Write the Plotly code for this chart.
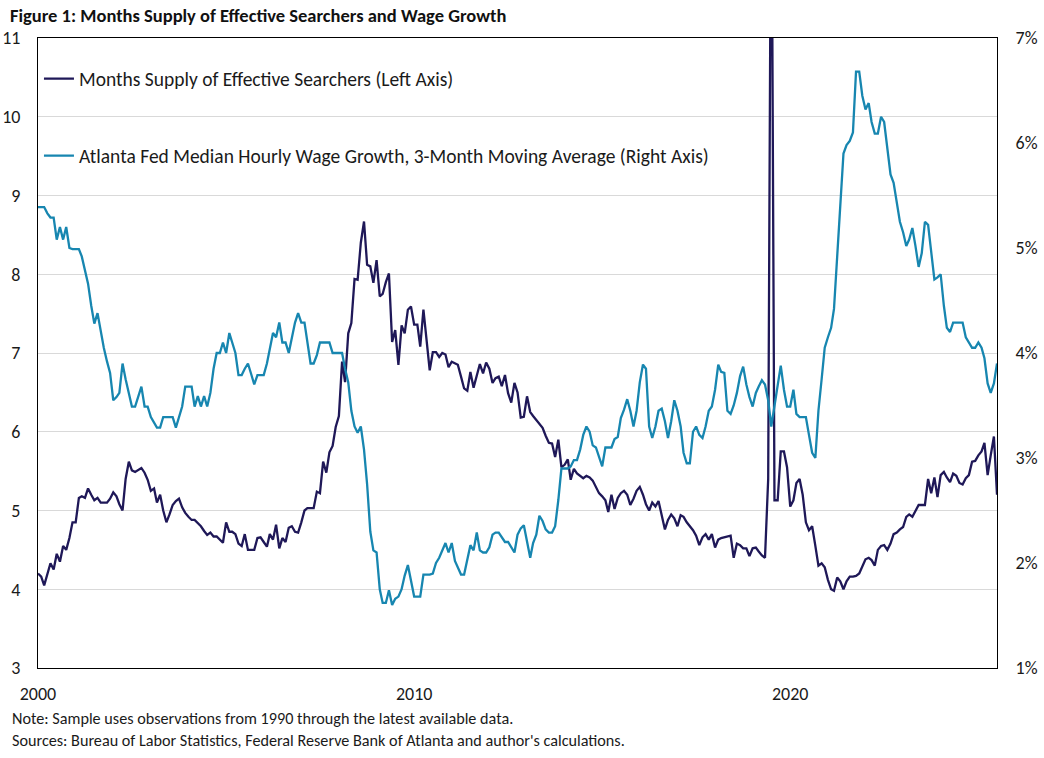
import pandas as pd
import plotly.graph_objects as go

# Months supply of effective searchers (left axis), monthly from Jan 2000
searchers = [
    4.2, 4.16, 4.05, 4.2, 4.33, 4.25, 4.45, 4.35, 4.55, 4.5, 4.65, 4.85,
    4.85, 5.16, 5.18, 5.16, 5.28, 5.2, 5.13, 5.16, 5.1, 5.1, 5.1, 5.15,
    5.23, 5.18, 5.08, 5.0, 5.4, 5.62, 5.51, 5.49, 5.52, 5.54, 5.48, 5.39,
    5.25, 5.28, 5.1, 5.2, 5.0, 4.85, 4.95, 5.07, 5.12, 5.15, 5.04, 4.97,
    4.92, 4.88, 4.88, 4.84, 4.8, 4.74, 4.69, 4.72, 4.67, 4.67, 4.63, 4.59,
    4.85, 4.73, 4.73, 4.7, 4.58, 4.55, 4.7, 4.5, 4.5, 4.5, 4.65, 4.66,
    4.6, 4.54, 4.7, 4.63, 4.82, 4.52, 4.65, 4.6, 4.78, 4.8, 4.73, 4.72,
    4.85, 5.0, 5.03, 5.03, 5.03, 5.24, 5.22, 5.62, 5.48, 5.74, 5.82, 6.06,
    6.2, 6.89, 6.63, 7.25, 7.38, 7.94, 7.93, 8.4, 8.67, 8.12, 8.1, 7.89,
    8.18, 7.72, 7.75, 7.9, 8.01, 7.14, 7.29, 6.85, 7.35, 7.25, 7.55, 7.59,
    7.36, 7.36, 7.08, 7.55, 7.12, 6.78, 7.01, 7.01, 6.95, 7.0, 6.98, 6.82,
    6.89, 6.87, 6.85, 6.7, 6.55, 6.52, 6.76, 6.56, 6.7, 6.86, 6.74, 6.88,
    6.8, 6.62, 6.68, 6.7, 6.58, 6.72, 6.49, 6.37, 6.62, 6.5, 6.18, 6.19,
    6.45, 6.25, 6.2, 6.15, 6.1, 6.05, 5.95, 5.86, 5.85, 5.68, 5.9, 5.55,
    5.58, 5.65, 5.39, 5.53, 5.47, 5.44, 5.41, 5.44, 5.42, 5.38, 5.3, 5.22,
    5.18, 5.13, 4.98, 5.2, 5.02, 5.16, 5.22, 5.25, 5.2, 5.07, 5.15, 5.25,
    5.3, 5.2, 5.08, 5.0, 5.1, 5.05, 5.12, 4.94, 4.76, 4.88, 4.95, 4.9,
    4.8, 4.94, 4.92, 4.85, 4.8, 4.75, 4.68, 4.56, 4.66, 4.7, 4.63, 4.7,
    4.53, 4.63, 4.65, 4.66, 4.67, 4.68, 4.4, 4.58, 4.56, 4.52, 4.52, 4.42,
    4.52, 4.53, 4.48, 4.43, 4.4, 5.4, 14.0, 5.13, 5.13, 5.75, 5.75, 5.55,
    5.05, 5.13, 5.35, 5.4, 5.2, 4.85, 4.75, 4.8, 4.55, 4.3, 4.33, 4.28,
    4.12, 4.0, 3.98, 4.15, 4.1, 4.0, 4.1, 4.16, 4.16, 4.17, 4.2, 4.28,
    4.38, 4.4, 4.37, 4.3, 4.5, 4.55, 4.56, 4.5, 4.58, 4.7, 4.72, 4.76,
    4.79, 4.92, 4.95, 4.92, 5.0, 5.07, 5.07, 5.07, 5.4, 5.22, 5.42, 5.17,
    5.45, 5.49, 5.42, 5.36, 5.47, 5.44, 5.35, 5.33, 5.41, 5.45, 5.62, 5.63,
    5.7, 5.75, 5.86, 5.45, 5.7, 5.94, 5.2,
]

# Atlanta Fed median hourly wage growth, 3-month moving average (%, right axis)
wage_growth = [
    5.39, 5.39, 5.39, 5.33, 5.29, 5.29, 5.08, 5.2, 5.08, 5.2, 5.0, 4.99,
    4.99, 4.99, 4.92, 4.8, 4.66, 4.45, 4.28, 4.38, 4.19, 4.05, 3.92, 3.81,
    3.55, 3.58, 3.62, 3.9, 3.75, 3.6, 3.49, 3.49, 3.6, 3.68, 3.49, 3.49,
    3.39, 3.33, 3.29, 3.29, 3.39, 3.39, 3.39, 3.39, 3.29, 3.4, 3.49, 3.68,
    3.68, 3.68, 3.49, 3.59, 3.49, 3.59, 3.49, 3.62, 3.85, 4.0, 4.0, 4.1,
    4.0, 4.19, 4.1, 4.0, 3.79, 3.79, 3.85, 3.9, 3.8, 3.7, 3.79, 3.79,
    3.79, 3.9, 4.05, 4.19, 4.15, 4.29, 4.1, 4.1, 4.0, 4.15, 4.29, 4.38,
    4.29, 4.29, 4.1, 3.9, 3.9, 3.98, 4.1, 4.1, 4.1, 4.1, 4.0, 4.0,
    4.0, 4.0, 3.85, 3.72, 3.45, 3.3, 3.24, 3.3, 3.08, 2.75, 2.3, 2.12,
    2.1, 1.75, 1.62, 1.62, 1.74, 1.6, 1.66, 1.68, 1.75, 1.88, 1.98, 1.82,
    1.68, 1.68, 1.68, 1.89, 1.89, 1.89, 1.9, 2.0, 2.05, 2.12, 2.19, 2.1,
    2.19, 2.02, 1.95, 1.89, 1.89, 2.05, 2.17, 2.12, 2.29, 2.12, 2.1, 2.1,
    2.15, 2.27, 2.29, 2.29, 2.25, 2.2, 2.2, 2.15, 2.1, 2.27, 2.33, 2.36,
    2.2, 2.05, 2.19, 2.27, 2.45, 2.4, 2.32, 2.29, 2.29, 2.35, 2.6, 2.9,
    2.9, 2.9, 2.92, 2.98, 2.98, 3.08, 3.22, 3.3, 3.25, 3.12, 3.1, 3.02,
    2.92, 3.1, 3.1, 3.1, 3.18, 3.2, 3.38, 3.46, 3.56, 3.45, 3.3, 3.45,
    3.72, 3.89, 3.85, 3.3, 3.19, 3.3, 3.45, 3.47, 3.35, 3.19, 3.35, 3.55,
    3.45, 3.3, 3.05, 2.95, 2.95, 3.25, 3.3, 3.22, 3.19, 3.3, 3.45, 3.49,
    3.65, 3.89, 3.82, 3.81, 3.45, 3.42, 3.5, 3.62, 3.78, 3.87, 3.7, 3.58,
    3.49, 3.62, 3.68, 3.74, 3.7, 3.55, 3.3, 3.5, 3.7, 3.88, 3.65, 3.49,
    3.49, 3.65, 3.42, 3.39, 3.39, 3.39, 3.22, 3.05, 3.0, 3.45, 3.75, 4.05,
    4.15, 4.24, 4.42, 4.9, 5.45, 5.9, 5.98, 6.02, 6.1, 6.68, 6.68, 6.45,
    6.32, 6.38, 6.2, 6.09, 6.09, 6.25, 6.2, 5.92, 5.7, 5.62, 5.45, 5.25,
    5.15, 5.02, 5.08, 5.19, 5.02, 4.82, 4.95, 5.25, 5.22, 4.95, 4.7, 4.72,
    4.75, 4.45, 4.24, 4.2, 4.29, 4.29, 4.29, 4.29, 4.15, 4.1, 4.05, 4.05,
    4.1, 4.05, 3.95, 3.71, 3.62, 3.71, 3.9,
]

x_tick_labels = ["2000", "2010", "2020"]
left_ticks = [3, 4, 5, 6, 7, 8, 9, 10, 11]
right_ticks = [1, 2, 3, 4, 5, 6, 7]
right_tick_labels = [f"{v}%" for v in right_ticks]

start = "2000-01-01"
dates_s = pd.date_range(start, periods=len(searchers), freq="MS")
dates_w = pd.date_range(start, periods=len(wage_growth), freq="MS")

FONT = "Carlito, Calibri, Lato, sans-serif"
NAVY = "#1f1858"
TEAL = "#1786b0"
TXT = "#1a1a1a"

fig = go.Figure()
fig.add_trace(go.Scatter(
    x=dates_s, y=searchers, mode="lines",
    name="Months Supply of Effective Searchers (Left Axis)",
    line=dict(color=NAVY, width=2.3), legend="legend",
))
fig.add_trace(go.Scatter(
    x=dates_w, y=wage_growth, mode="lines", yaxis="y2",
    name="Atlanta Fed Median Hourly Wage Growth, 3-Month Moving Average (Right Axis)",
    line=dict(color=TEAL, width=2.3), legend="legend2",
))

tickvals_x = [pd.Timestamp(f"{t}-01-01") for t in x_tick_labels]

fig.update_layout(
    width=1044, height=758,
    margin=dict(l=38, r=47, t=38, b=90),
    paper_bgcolor="white", plot_bgcolor="white",
    font=dict(family=FONT, size=18, color=TXT),
    title=dict(
        text="<b>Figure 1: Months Supply of Effective Searchers and Wage Growth</b>",
        x=10 / 1044, xanchor="left", xref="container",
        y=1 - 16 / 758, yanchor="middle", yref="container",
        font=dict(family=FONT, size=18.5, color="#111111"),
    ),
    xaxis=dict(
        type="date", automargin=False,
        range=[start, dates_s[-1]],
        tickvals=tickvals_x, ticktext=x_tick_labels,
        showgrid=False, showline=True, linecolor="black", linewidth=1,
        mirror=True, ticks="", ticklabelstandoff=9,
        tickfont=dict(family=FONT, size=18, color=TXT),
    ),
    yaxis=dict(
        range=[3, 11], tickvals=left_ticks, automargin=False,
        showgrid=True, gridcolor="#d9d9d9", gridwidth=1,
        showline=True, linecolor="black", linewidth=1, mirror=True,
        zeroline=False, ticks="", ticklabelstandoff=13,
        tickfont=dict(family=FONT, size=18, color=TXT),
    ),
    yaxis2=dict(
        range=[1, 7], tickvals=right_ticks, ticktext=right_tick_labels,
        overlaying="y", side="right", showgrid=False, automargin=False,
        showline=True, linecolor="black", linewidth=1,
        zeroline=False, ticks="", ticklabelstandoff=14,
        tickfont=dict(family=FONT, size=18, color=TXT),
    ),
    legend=dict(
        x=0.001, xanchor="left", y=(668 - 79) / 630, yanchor="middle",
        bgcolor="rgba(0,0,0,0)", itemwidth=30,
        font=dict(family=FONT, size=19.5, color=TXT),
    ),
    legend2=dict(
        x=0.001, xanchor="left", y=(668 - 156) / 630, yanchor="middle",
        bgcolor="rgba(0,0,0,0)", itemwidth=30,
        font=dict(family=FONT, size=19.5, color=TXT),
    ),
    showlegend=True,
)

fig.add_annotation(
    text="Note: Sample uses observations from 1990 through the latest available data.",
    xref="paper", yref="paper", x=(10 - 38) / 959, y=(668 - 718) / 630,
    xanchor="left", yanchor="middle", showarrow=False, align="left",
    font=dict(family=FONT, size=16.2, color=TXT),
)
fig.add_annotation(
    text="Sources: Bureau of Labor Statistics, Federal Reserve Bank of Atlanta and author's calculations.",
    xref="paper", yref="paper", x=(10 - 38) / 959, y=(668 - 740) / 630,
    xanchor="left", yanchor="middle", showarrow=False, align="left",
    font=dict(family=FONT, size=16.2, color=TXT),
)

fig.write_html("out.html")
